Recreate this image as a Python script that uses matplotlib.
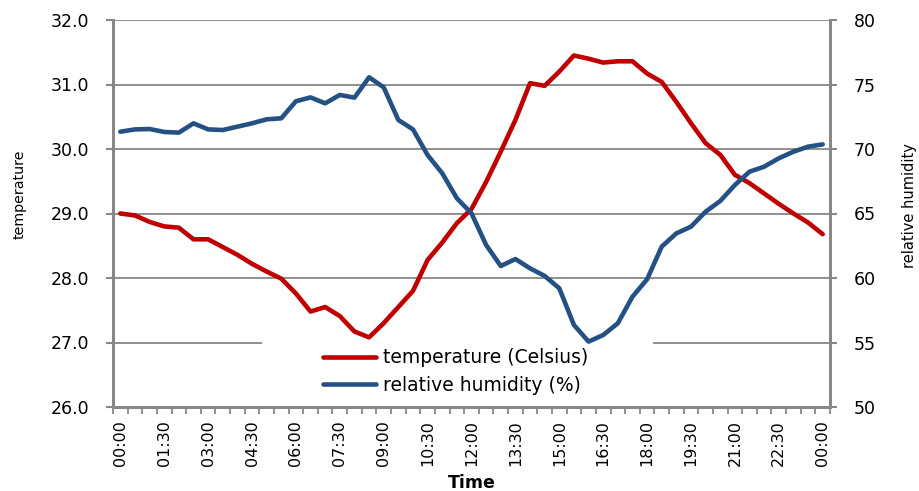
import numpy as np
import matplotlib.pyplot as plt
import matplotlib.transforms as mtransforms
from matplotlib.patches import Rectangle
from matplotlib.ticker import FixedLocator, FormatStrFormatter

# half-hourly readings over one day
times = ["%02d:%02d" % ((m // 60) % 24, m % 60) for m in range(0, 24 * 60 + 1, 30)]

temperature = [29.00, 28.97, 28.87, 28.80, 28.78, 28.60, 28.60, 28.48, 28.36, 28.22,
               28.10, 27.99, 27.76, 27.48, 27.55, 27.41, 27.17, 27.08, 27.30, 27.55,
               27.80, 28.28, 28.55, 28.85, 29.07, 29.49, 29.96, 30.45, 31.02, 30.98,
               31.20, 31.45, 31.40, 31.34, 31.36, 31.36, 31.17, 31.04, 30.73, 30.40,
               30.09, 29.91, 29.60, 29.47, 29.31, 29.15, 29.00, 28.86, 28.68]

humidity = [71.34, 71.52, 71.55, 71.32, 71.27, 71.99, 71.52, 71.47, 71.73, 71.99,
            72.30, 72.38, 73.70, 74.00, 73.54, 74.19, 73.98, 75.56, 74.78, 72.25,
            71.52, 69.53, 68.12, 66.18, 65.01, 62.56, 60.93, 61.47, 60.75, 60.16,
            59.20, 56.36, 55.07, 55.58, 56.49, 58.55, 59.90, 62.43, 63.46, 63.98,
            65.14, 65.97, 67.21, 68.24, 68.63, 69.28, 69.79, 70.18, 70.36]

red = '#C00000'
blue = '#245083'
grey = '#878787'

fig = plt.figure(figsize=(9.19, 4.91), dpi=100)
ax = fig.add_axes([113/919, 1 - 407/491, 717/919, 387/491])
ax2 = ax.twinx()

x = np.arange(len(times))
l1, = ax.plot(x, temperature, color=red, lw=3.3, solid_capstyle='round', zorder=3)
l2, = ax2.plot(x, humidity, color=blue, lw=3.3, solid_capstyle='round', zorder=3)

ax.set_xlim(-0.5, len(times) - 0.5)
ax.set_ylim(26, 32)
ax2.set_ylim(50, 80)
ax.set_yticks(np.arange(26, 32.1, 1))
ax2.set_yticks(np.arange(50, 81, 5))
ax.yaxis.set_major_formatter(FormatStrFormatter('%.1f'))

# labels every 1.5 h, tick marks at category boundaries
ax.set_xticks(x[::3])
ax.set_xticklabels(times[::3], rotation=90, fontsize=11.5)
shift = mtransforms.ScaledTranslation(4/100, 0, fig.dpi_scale_trans)
for lab in ax.get_xticklabels():
    lab.set_transform(lab.get_transform() + shift)
ax.xaxis.set_minor_locator(FixedLocator(np.arange(-0.5, len(times), 1)))
ax.tick_params(axis='x', which='major', length=0, pad=9.5)
ax.tick_params(axis='x', which='minor', length=5, width=1.3, color=grey, direction='out')
ax.tick_params(axis='y', length=5, width=1.5, color=grey, pad=12, labelsize=12.5)
ax2.tick_params(axis='y', length=5, width=1.5, color=grey, pad=12, labelsize=12.5)

ax.grid(axis='y', color=grey, lw=1.3)
ax.set_axisbelow(True)
for a in (ax, ax2):
    a.spines['top'].set_visible(False)
    for s in ('left', 'right', 'bottom'):
        a.spines[s].set_color(grey)
        a.spines[s].set_linewidth(2)

# white legend area hiding the gridline
ax.add_patch(Rectangle((262, 491 - 396), 391, 55, transform=None,
                       facecolor='white', edgecolor='none', zorder=1))

ax.set_ylabel('temperature', fontsize=10.2)
ax.yaxis.set_label_coords(-0.121, 0.55)
ax2.set_ylabel('relative humidity', fontsize=10.5)
ax2.yaxis.set_label_coords(1.10, 0.52)
ax.set_xlabel('Time', fontsize=12.5, fontweight='bold')
ax.xaxis.set_label_coords(0.5, -0.172)

fig.legend([l1, l2], ['temperature (Celsius)', 'relative humidity (%)'],
           loc='upper left', bbox_to_anchor=(314/919, 1 - 339/491),
           frameon=False, fontsize=13.5, handlelength=2.8, labelspacing=0.45,
           handletextpad=0.37, borderpad=0)

fig.savefig('out.png', dpi=100)
